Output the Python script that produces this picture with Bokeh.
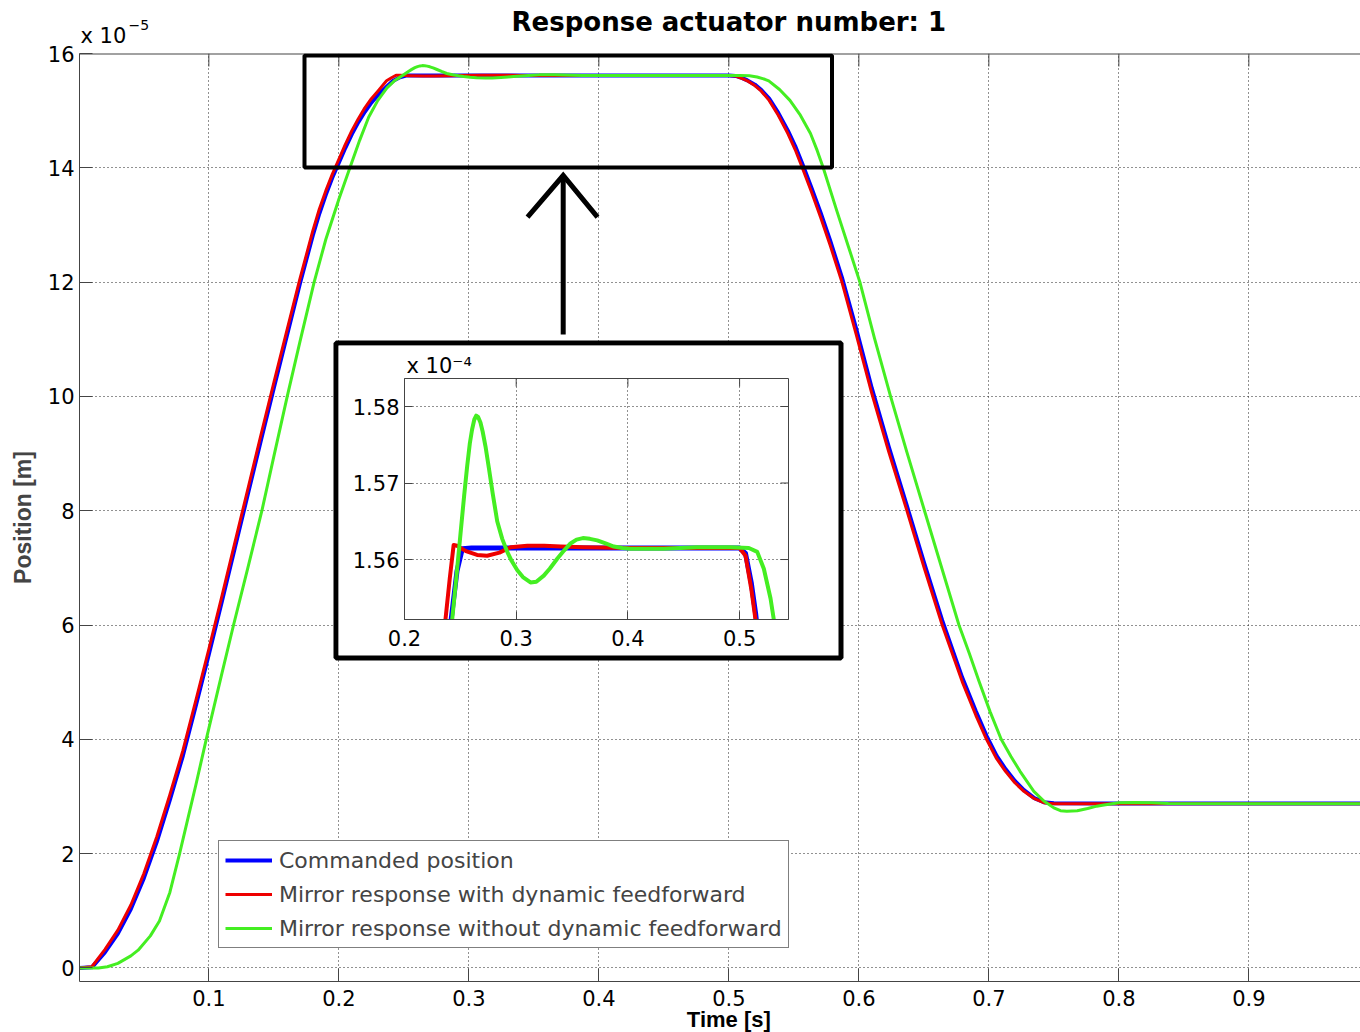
import numpy as np
from bokeh.plotting import figure
from bokeh.models import (Range1d, FixedTicker, Label, Legend, LegendItem, Title,
                          BoxAnnotation, CustomJSTickFormatter, Span)
from bokeh.layouts import column
from bokeh.embed import file_html
from bokeh.resources import INLINE

# ---------------- data (positions in units of 1e-5 m) ----------------
t_cmd = [0.000, 0.010, 0.020, 0.030, 0.040, 0.050, 0.060, 0.070, 0.080, 0.090,
         0.100, 0.110, 0.120, 0.130, 0.140, 0.150, 0.160, 0.170, 0.180, 0.185,
         0.190, 0.195, 0.200, 0.205, 0.210, 0.215, 0.220, 0.225, 0.230, 0.236,
         0.2418, 0.2470, 0.2517, 0.2600, 0.3000, 0.4000,
         0.5000, 0.5053, 0.5104, 0.5143, 0.5200, 0.5250, 0.5310, 0.5380, 0.5454, 0.5510,
         0.5565, 0.5635, 0.5705, 0.5780, 0.5870, 0.5980, 0.6100, 0.6230, 0.6370, 0.6500,
         0.6641, 0.6795, 0.6900, 0.6982, 0.7060, 0.7128, 0.7200, 0.7270, 0.7350, 0.7423,
         0.7500, 0.8000, 0.9000, 1.0000]
pos_cmd = [0.00, 0.01, 0.27, 0.60, 1.03, 1.57, 2.21, 2.94, 3.71, 4.59,
           5.49, 6.41, 7.35, 8.29, 9.23, 10.15, 11.06, 11.97, 12.82, 13.20,
           13.53, 13.83, 14.09, 14.35, 14.59, 14.80, 14.98, 15.14, 15.27, 15.40,
           15.522, 15.585, 15.614, 15.615, 15.615, 15.615,
           15.615, 15.608, 15.570, 15.530, 15.455, 15.36, 15.21, 14.96, 14.65, 14.38,
           14.07, 13.65, 13.22, 12.72, 12.08, 11.18, 10.14, 9.12, 8.08, 7.10,
           6.08, 5.08, 4.49, 4.06, 3.71, 3.48, 3.27, 3.11, 2.97, 2.90,
           2.88, 2.875, 2.875, 2.875]

t_ff = [0.000, 0.010, 0.020, 0.030, 0.040, 0.050, 0.060, 0.070, 0.080, 0.090,
        0.100, 0.110, 0.120, 0.130, 0.140, 0.150, 0.160, 0.170, 0.180, 0.185,
        0.190, 0.195, 0.200, 0.205, 0.210, 0.215, 0.220, 0.225, 0.230,
        0.2367, 0.2405, 0.2440, 0.2470, 0.2550, 0.2650,
        0.2740, 0.2850, 0.2950, 0.3100, 0.3250, 0.3400, 0.3600, 0.4000, 0.4500, 0.5000,
        0.5053, 0.5104, 0.5143, 0.5200, 0.5250, 0.5310, 0.5380, 0.5454, 0.5510, 0.5565,
        0.5635, 0.5705, 0.5780, 0.5870, 0.5980, 0.6100, 0.6230, 0.6370, 0.6500, 0.6641,
        0.6795, 0.6900, 0.6982, 0.7060, 0.7128, 0.7200, 0.7270, 0.7350, 0.7423, 0.7500,
        0.8000, 0.9000, 1.0000]
pos_ff = [0.00, 0.02, 0.32, 0.66, 1.10, 1.65, 2.30, 3.03, 3.80, 4.68,
          5.58, 6.50, 7.44, 8.38, 9.32, 10.24, 11.15, 12.05, 12.90, 13.28,
          13.60, 13.89, 14.15, 14.41, 14.65, 14.86, 15.05, 15.21, 15.34,
          15.522, 15.575, 15.619, 15.618, 15.611, 15.606,
          15.605, 15.609, 15.616, 15.618, 15.618, 15.617, 15.616, 15.615, 15.615, 15.615,
          15.605, 15.562, 15.521, 15.44, 15.34, 15.18, 14.92, 14.60, 14.32, 14.00,
          13.58, 13.14, 12.64, 12.00, 11.08, 10.05, 9.03, 8.00, 7.02, 6.00,
          5.01, 4.42, 4.00, 3.66, 3.44, 3.24, 3.09, 2.96, 2.89, 2.872,
          2.872, 2.872, 2.872]

t_noff = [0.000, 0.015, 0.022, 0.030, 0.040, 0.0456, 0.055, 0.062, 0.070, 0.0775,
          0.085, 0.090, 0.098, 0.110, 0.119, 0.130, 0.1408, 0.150, 0.1603, 0.170,
          0.181, 0.190, 0.200, 0.2085, 0.216, 0.223, 0.230, 0.237, 0.2427, 0.2465,
          0.2501, 0.2535, 0.2561, 0.2585, 0.2605, 0.2625, 0.2642, 0.2660, 0.2680, 0.2700,
          0.2725, 0.2755, 0.2790, 0.2830, 0.2875, 0.2920, 0.2960, 0.3010, 0.3060, 0.3128,
          0.3180, 0.3247, 0.3300, 0.3367, 0.3430, 0.3486, 0.3540, 0.3597, 0.3660, 0.3725,
          0.3800, 0.3874, 0.3950, 0.4023, 0.4320, 0.4618, 0.4916, 0.5083,
          0.5158, 0.5217, 0.5277, 0.5307, 0.5390, 0.5470, 0.5550, 0.5628, 0.5680, 0.5726,
          0.5830, 0.5920, 0.6008,
          0.6120, 0.6244, 0.6370, 0.6505, 0.6640, 0.6770, 0.6850, 0.6925, 0.7010,
          0.7095, 0.7170, 0.7240, 0.7346, 0.7423, 0.7500, 0.7551, 0.7600, 0.7680, 0.7760,
          0.7830, 0.7885, 0.8000, 0.8120, 0.8250, 0.8380, 0.9000, 1.0000]
pos_noff = [0.00, 0.00, 0.02, 0.08, 0.21, 0.31, 0.56, 0.82, 1.32, 2.00,
            2.72, 3.20, 4.00, 5.15, 6.00, 7.00, 8.00, 8.95, 10.00, 10.95,
            12.00, 12.75, 13.45, 14.00, 14.48, 14.89, 15.18, 15.40, 15.522, 15.578,
            15.633, 15.685, 15.722, 15.752, 15.770, 15.783, 15.788, 15.786, 15.779, 15.767,
            15.748, 15.720, 15.686, 15.650, 15.627, 15.610, 15.598, 15.586, 15.577, 15.570,
            15.571, 15.579, 15.588, 15.601, 15.612, 15.621, 15.626, 15.628, 15.627, 15.625,
            15.621, 15.617, 15.615, 15.614, 15.614, 15.616, 15.616, 15.615,
            15.610, 15.588, 15.549, 15.521, 15.37, 15.18, 14.92, 14.60, 14.30, 14.00,
            13.25, 12.62, 12.00,
            11.02, 10.00, 9.02, 8.00, 6.98, 6.00, 5.50, 5.01, 4.48,
            4.00, 3.70, 3.44, 3.09, 2.92, 2.80, 2.75, 2.74, 2.75, 2.79,
            2.83, 2.85, 2.89, 2.895, 2.89, 2.875, 2.872, 2.872]

labels = ["Commanded position",
          "Mirror response with dynamic feedforward",
          "Mirror response without dynamic feedforward"]
x_ticks = [0.1, 0.2, 0.3, 0.4, 0.5, 0.6, 0.7, 0.8, 0.9]
y_ticks = [0, 2, 4, 6, 8, 10, 12, 14, 16]
inset_x_ticks = [0.2, 0.3, 0.4, 0.5]
inset_y_ticks = [15.6, 15.7, 15.8]

# ---------------- styling / layout constants ----------------
BLUE, RED, GREEN = "#0000ff", "#ee0000", "#44ee22"
AX = "#444444"
TICK_FONT = "DejaVu Sans"
GRID_DASH = "1 3"
W, H = 1360, 1032
FR_L, FR_T, FR_H = 79, 53, 928           # main frame (page px)
FR_W = W - FR_L
PXT, PXV = 1300.0, 57.15                  # px per data unit (x, y)
X0 = 0.0005
X1 = X0 + FR_W / PXT
Y1 = 16.0
Y0 = Y1 - FR_H / PXV
NO_ALIGN = {"frame_align": False} if "frame_align" in figure().properties() else {}
BASE_FIX = 0.38     # observed drop of label text below the requested baseline (in em)


def t_of(px):      # page pixel x -> main data x
    return X0 + (px - FR_L) / PXT


def v_of(py):      # page pixel y -> main data y
    return Y1 - (py - FR_T) / PXV


def style_axis(ax, ticks, standoff, tick_len):
    ax.ticker = FixedTicker(ticks=ticks)
    ax.major_tick_in = tick_len
    ax.major_tick_out = 0
    ax.minor_tick_in = 0
    ax.minor_tick_out = 0
    ax.axis_line_color = AX
    ax.major_tick_line_color = AX
    ax.major_label_standoff = standoff
    ax.major_label_text_font = TICK_FONT
    ax.major_label_text_font_size = "21px"
    ax.major_label_text_color = "black"


# ---------------- main figure ----------------
p = figure(width=W, height=H, x_range=Range1d(X0, X1), y_range=Range1d(Y0, Y1),
           output_backend="svg", toolbar_location=None,
           min_border_left=FR_L, min_border_right=0, min_border_top=FR_T,
           min_border_bottom=H - FR_T - FR_H, **NO_ALIGN)
p.outline_line_color = None
p.background_fill_color = "white"
p.border_fill_color = "white"
style_axis(p.xaxis[0], x_ticks, 8, 13)
style_axis(p.yaxis[0], y_ticks, 5, 13)
p.yaxis.axis_label = "Position [m]"
p.yaxis.axis_label_text_font = "Liberation Sans"
p.yaxis.axis_label_text_font_style = "bold"
p.yaxis.axis_label_text_font_size = "23px"
p.yaxis.axis_label_standoff = 9

p.grid.grid_line_color = "#222222"
p.grid.grid_line_dash = GRID_DASH
p.grid.grid_line_width = 1

# top edge of the box with inward ticks
p.add_layout(Span(location=Y1, dimension="width", line_color=AX, line_width=2))
p.segment(x0=x_ticks, y0=[Y1] * len(x_ticks), x1=x_ticks,
          y1=[Y1 - 13 / PXV] * len(x_ticks), line_color=AX, line_width=1)

r_cmd = p.line(t_cmd, pos_cmd, line_color=BLUE, line_width=4, line_join="round")
r_ff = p.line(t_ff, pos_ff, line_color=RED, line_width=3, line_join="round")
r_noff = p.line(t_noff, pos_noff, line_color=GREEN, line_width=3, line_join="round")

# zoom rectangle
p.add_layout(BoxAnnotation(left=t_of(304), right=t_of(831.5), bottom=v_of(167), top=v_of(55),
                           fill_color=None, fill_alpha=0, line_color="black",
                           line_alpha=1, line_width=4))
# thick frame around the inset
p.add_layout(BoxAnnotation(left=t_of(335.5), right=t_of(840.5), bottom=v_of(657.5),
                           top=v_of(342.5), fill_color="white", fill_alpha=1,
                           line_color="black", line_alpha=1, line_width=5))

# arrow
ax_x = t_of(562.7)
p.line([ax_x, ax_x], [v_of(334), v_of(178)], line_color="black", line_width=5)
p.line([t_of(527), ax_x, t_of(597)], [v_of(216.7), v_of(175), v_of(216.7)],
       line_color="black", line_width=5, line_join="miter")

legend = Legend(items=[LegendItem(label=labels[0], renderers=[r_cmd]),
                       LegendItem(label=labels[1], renderers=[r_ff]),
                       LegendItem(label=labels[2], renderers=[r_noff])],
                location=(139, 33), label_text_font=TICK_FONT, label_text_font_size="22px",
                glyph_width=47, glyph_height=26, label_height=26, label_standoff=7,
                spacing=8, padding=6, margin=0, border_line_color="black",
                border_line_width=1, background_fill_color="white", background_fill_alpha=1)
p.add_layout(legend)


def overlay(height, top):
    f = figure(width=W, height=height, x_range=Range1d(X0 - FR_L / PXT, X1),
               y_range=Range1d(top + height, top), output_backend="svg",
               toolbar_location=None,
               min_border_left=0, min_border_right=0, min_border_top=0, min_border_bottom=0,
               x_axis_location=None, y_axis_location=None,
               styles={"position": "absolute", "left": "0px", "top": f"{top}px"},
               **NO_ALIGN)
    try:
        f.title_location = None
    except Exception:
        f.title.visible = False
    f.outline_line_color = None
    f.grid.visible = False
    f.background_fill_alpha = 0
    f.border_fill_alpha = 0
    return f


def page_text(fig, x, baseline_px, size, text, **kw):
    """Text whose baseline sits at the given page row (y range of overlays is page px)."""
    fig.add_layout(Label(x=x, y=baseline_px - BASE_FIX * size, text=text,
                         text_baseline="alphabetic", text_font_size=f"{size}px",
                         text_color="black", **kw))


# header: title + exponent
hdr = overlay(FR_T - 1, 0)
page_text(hdr, 0.5, 31.5, 26, "Response actuator number: 1", text_align="center",
          text_font="DejaVu Sans", text_font_style="bold")
page_text(hdr, X0, 43.5, 21, "x 10", x_offset=1, text_align="left", text_font=TICK_FONT)
page_text(hdr, X0, 30.0, 14, "\u22125", x_offset=49, text_align="left", text_font=TICK_FONT)

# footer: x axis label
FTR_TOP = 1008
ftr = overlay(H - FTR_TOP, FTR_TOP)
page_text(ftr, 0.5, 1027.0, 22, "Time [s]", text_align="center",
          text_font="Liberation Sans", text_font_style="bold")

# ---------------- inset ----------------
IX0, IX1 = 0.2, 0.54378
IY0, IY1 = 15.5216, 15.8366
IN_L, IN_T, IN_W, IN_H = 338, 345, 500, 310
IFR_L, IFR_R, IFR_T, IFR_B = 66, 50, 33, 36
ins = figure(width=IN_W, height=IN_H, x_range=Range1d(IX0, IX1), y_range=Range1d(IY0, IY1),
             output_backend="svg", toolbar_location=None,
             min_border_left=IFR_L, min_border_right=IFR_R, min_border_top=IFR_T,
             min_border_bottom=IFR_B,
             styles={"position": "absolute", "left": f"{IN_L}px", "top": f"{IN_T}px"},
             **NO_ALIGN)
ins.background_fill_color = "white"
ins.border_fill_color = "white"
ins.outline_line_color = AX
style_axis(ins.xaxis[0], inset_x_ticks, 10, 8)
style_axis(ins.yaxis[0], inset_y_ticks, 5, 8)
ins.yaxis[0].formatter = CustomJSTickFormatter(code="return (tick / 10).toFixed(2);")
ins.grid.grid_line_color = "#222222"
ins.grid.grid_line_dash = GRID_DASH

ipx_x = (IX1 - IX0) / (IN_W - IFR_L - IFR_R)
ipx_y = (IY1 - IY0) / (IN_H - IFR_T - IFR_B)
ins.segment(x0=inset_x_ticks, y0=[IY1] * len(inset_x_ticks), x1=inset_x_ticks,
            y1=[IY1 - 8 * ipx_y] * len(inset_x_ticks), line_color=AX)
ins.segment(x0=[IX1] * len(inset_y_ticks), y0=inset_y_ticks,
            x1=[IX1 - 8 * ipx_x] * len(inset_y_ticks), y1=inset_y_ticks, line_color=AX)

ins.line(t_cmd, pos_cmd, line_color=BLUE, line_width=5, line_join="round")
ins.line(t_ff, pos_ff, line_color=RED, line_width=4, line_join="round")
ins.line(t_noff, pos_noff, line_color=GREEN, line_width=4, line_join="round")

tkw = dict(text="x 10\u207b\u2074", align="left", offset=2, text_font=TICK_FONT,
           text_font_size="21px", text_font_style="normal", text_color="black")
if "standoff" in Title.properties():
    tkw["standoff"] = 2
ins.title = Title(**tkw)

layout = column(p, ins, hdr, ftr, width=W, height=H, styles={"position": "relative"})
open("out.html", "w").write(file_html(layout, INLINE))
